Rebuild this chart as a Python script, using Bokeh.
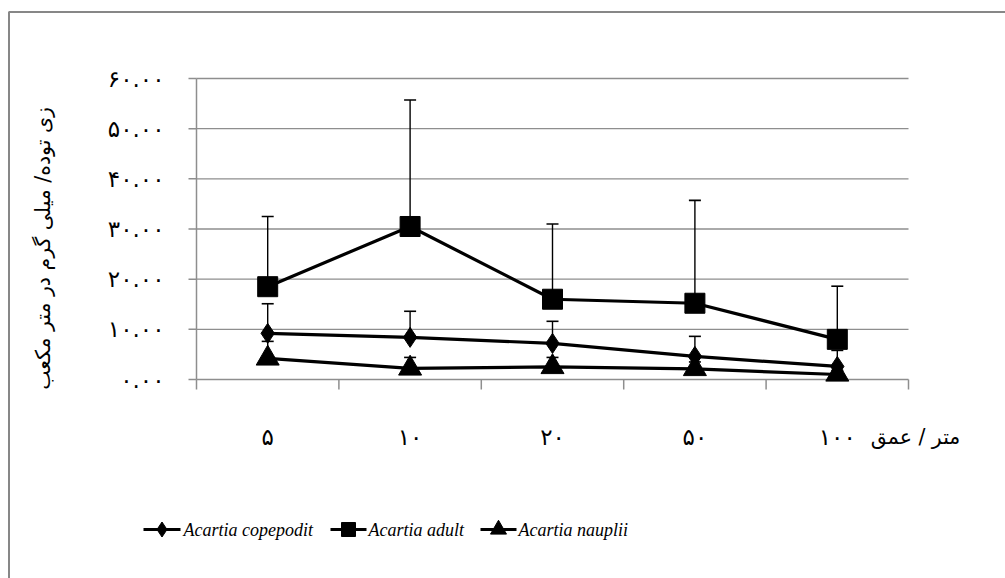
import math
from bokeh.plotting import figure
from bokeh.models import ColumnDataSource, Range1d
from bokeh.core.properties import value
from bokeh.embed import file_html
from bokeh.resources import INLINE

# ---- data ----
depths = ["۵", "۱۰", "۲۰", "۵۰", "۱۰۰"]
copepodit = [9.2, 8.4, 7.2, 4.6, 2.6]
copepodit_err = [5.9, 5.2, 4.4, 4.0, 3.2]
adult = [18.5, 30.5, 16.0, 15.2, 8.0]
adult_err = [14.0, 25.2, 15.0, 20.5, 10.6]
nauplii = [4.2, 2.2, 2.5, 2.1, 1.0]
nauplii_err = [3.4, 2.2, 1.9, 1.4, 0.8]
y_ticks = [0, 10, 20, 30, 40, 50, 60]
y_tick_labels = ["۰.۰۰", "۱۰.۰۰", "۲۰.۰۰", "۳۰.۰۰", "۴۰.۰۰", "۵۰.۰۰", "۶۰.۰۰"]
series_names = ["Acartia copepodit", "Acartia adult", "Acartia nauplii"]
y_title = "زی توده/ میلی گرم در متر مکعب"
x_title = "متر / عمق"

# ---- layout (pixels) ----
W, H = 1005, 578
FL, FR, FT, FB = 196, 908, 78, 379          # plot-area edges
n = len(depths)
KX = (FR - FL) / n                            # px per category
KY = (FB - FT) / (y_ticks[-1] - y_ticks[0])   # px per unit


def px_x(px):
    return (px - FL) / KX


def px_y(py):
    return (FB - py) / KY


p = figure(width=W, height=H, output_backend="svg", toolbar_location=None,
           x_range=Range1d(px_x(0), px_x(W)), y_range=Range1d(px_y(H), px_y(0)),
           x_axis_location=None, y_axis_location=None,
           min_border=0, min_border_left=0, min_border_right=0,
           min_border_top=0, min_border_bottom=0)
p.grid.visible = False
p.outline_line_color = None
p.background_fill_color = "white"
p.border_fill_color = "white"

GRID = "#8e8e8e"
PERSIAN = value("DejaVu Sans")

# outer chart-area border (left and top edges visible)
p.line(x=[px_x(8.5), px_x(8.5), px_x(W + 20)], y=[px_y(H + 20), px_y(11.5), px_y(11.5)],
       line_color="#878787", line_width=2)

# horizontal gridlines
gy = y_ticks[1:]
p.segment(x0=[0] * len(gy), x1=[n] * len(gy), y0=gy, y1=gy, line_color=GRID, line_width=1.3)

# value axis (left) with outward ticks
p.segment(x0=[0], x1=[0], y0=[y_ticks[0]], y1=[y_ticks[-1]], line_color=GRID, line_width=1.5)
p.segment(x0=[-8 / KX] * len(y_ticks), x1=[0] * len(y_ticks), y0=y_ticks, y1=y_ticks,
          line_color=GRID, line_width=1.5)
p.text(x=[px_x(164)] * len(y_ticks), y=y_ticks, text=y_tick_labels,
       text_align="right", text_baseline="middle", text_font=PERSIAN,
       text_font_size="23px", text_color="black")

# category axis (bottom) with ticks between categories
bounds = list(range(n + 1))
p.segment(x0=[0], x1=[n], y0=[y_ticks[0]], y1=[y_ticks[0]], line_color=GRID, line_width=1.5)
p.segment(x0=bounds, x1=bounds, y0=[0] * len(bounds), y1=[-10 / KY] * len(bounds),
          line_color=GRID, line_width=1.5)
xc = [i + 0.5 for i in range(n)]
p.text(x=xc, y=[px_y(436)] * n, text=depths, text_align="center", text_baseline="middle",
       text_font=PERSIAN, text_font_size="23px", text_color="black")

# axis titles
p.text(x=[px_x(915)], y=[px_y(436)], text=[x_title], text_align="center",
       text_baseline="middle", text_font=PERSIAN, text_font_size="20.5px", text_color="black")
p.text(x=[px_x(42)], y=[px_y(248)], text=[y_title], angle=math.pi / 2, text_align="center",
       text_baseline="middle", text_font=PERSIAN, text_font_size="20.5px", text_color="black")

# error bars (upper only)
all_vals = [copepodit, adult, nauplii]
all_errs = [copepodit_err, adult_err, nauplii_err]
for vals, errs in zip(all_vals, all_errs):
    up = [v + e for v, e in zip(vals, errs)]
    src = ColumnDataSource(dict(x=xc, y=vals, up=up))
    p.segment(x0="x", y0="y", x1="x", y1="up", source=src, line_color="black", line_width=1.4)
    p.scatter(x="x", y="up", source=src, marker="dash", size=12, line_color="black",
              line_width=1.6)

# series lines + markers
markers = ["diamond", "square", "triangle"]
sizes = [20, 20, 23]
for vals, mk, sz in zip(all_vals, markers, sizes):
    src = ColumnDataSource(dict(x=xc, y=vals))
    p.line(x="x", y="y", source=src, line_color="black", line_width=3.2)
    p.scatter(x="x", y="y", source=src, marker=mk, size=sz, fill_color="black",
              line_color="black")

# legend (drawn below the plot area)
leg_y = px_y(529)
leg_line = [(143, 180), (330, 366), (480, 516)]
leg_text_x = [183, 368, 518]
leg_sizes = [15, 14, 16]
for (a, b), tx, mk, sz, name in zip(leg_line, leg_text_x, markers, leg_sizes, series_names):
    p.line(x=[px_x(a), px_x(b)], y=[leg_y, leg_y], line_color="black", line_width=3)
    p.scatter(x=[px_x((a + b) / 2)], y=[leg_y], marker=mk, size=sz, fill_color="black",
              line_color="black")
    p.text(x=[px_x(tx)], y=[leg_y], text=[name], text_align="left", text_baseline="middle",
           text_font=value("Liberation Serif"), text_font_style="italic",
           text_font_size="18px", text_color="black")

open("out.html", "w").write(file_html(p, INLINE))
